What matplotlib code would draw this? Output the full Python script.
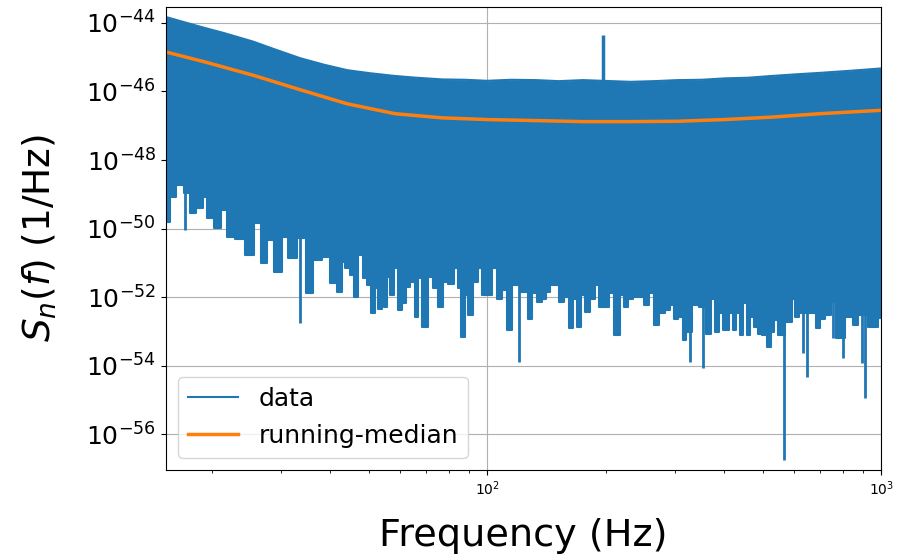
import numpy as np
import matplotlib.pyplot as plt
from matplotlib.ticker import NullLocator

# values (frequency in Hz, PSD as log10 of 1/Hz)
upper_freq = [15.3, 17.0, 19.2, 21.5, 25.5, 29.0, 33.5, 38.5, 44.1, 50.5, 58.4, 66.0, 76.9,
              88.0, 100, 115, 133, 152, 175, 231, 265, 304, 350, 400, 460, 526, 610, 696,
              830, 1000]
upper_log = [-43.83, -43.98, -44.15, -44.30, -44.55, -44.78, -45.03, -45.22, -45.38, -45.47,
             -45.55, -45.60, -45.65, -45.66, -45.69, -45.66, -45.67, -45.70, -45.67, -45.72,
             -45.70, -45.67, -45.66, -45.62, -45.60, -45.55, -45.50, -45.46, -45.40, -45.33]

median_freq = [15.3, 19.2, 25.5, 33.5, 44.1, 58.4, 76.9, 100, 133, 175, 231, 304, 400, 526, 696, 1000]
median_log = [-44.85, -45.14, -45.53, -45.95, -46.36, -46.65, -46.77, -46.82, -46.85,
              -46.88, -46.88, -46.87, -46.82, -46.75, -46.65, -46.55]

# bottom edge of the noisy band
lower_freq = [15.3, 16.0, 16.5, 17.4, 17.8, 18.7, 19.2, 19.8, 20.8, 21.3, 22.3, 23.6, 25.0,
              26.2, 27.0, 28.1, 29.5, 30.7, 31.6, 34.1, 35.1, 37.0, 39.3, 40.7,
              42.4, 43.2, 44.1, 45.5, 46.4, 47.8, 48.8, 50.3, 51.3, 52.4, 53.4, 54.5, 55.1,
              56.2, 57.4, 58.5, 60.3, 61.6, 62.8, 64.8, 66.1, 67.4, 69.5, 71.6, 73.8, 76.1,
              78.5, 80.9, 83.4, 85.1, 86.8, 88.6, 90.4, 93.2, 96.0, 98.0, 101.0, 104.1, 107.3,
              110.6, 114.0, 117.6, 124.9, 128.3, 131.4, 135.5, 139.6, 142.5, 146.9, 149.9,
              154.5, 159.2, 163.5, 167.5, 170.9, 174.4, 179.8, 185.3, 189.8, 194.9, 200.9,
              207.1, 213.5, 220.1, 224.6, 231.5, 238.6, 246.0, 253.5, 261.3, 269.3, 277.6,
              286.2, 295.0, 301.0, 310.2, 316.6, 323.1, 339.8, 350.3, 368.4, 372.2, 383.6,
              391.4, 403.4, 415.9, 424.4, 433.1, 441.9, 451.0, 460.3, 469.7, 479.3, 494.0,
              504.1, 519.6, 530.3, 541.1, 552.1, 586.8, 598.8, 611.0, 623.6, 676.0, 689.9,
              711.0, 732.8, 755.4, 778.6, 835.8, 861.4, 888.1, 962.7, 1000]
lower_log = [-49.81, -49.08, -48.73, -48.97, -49.55, -49.40, -49.08, -49.69, -49.99, -49.46,
             -50.25, -50.30, -50.77, -49.84, -51.01, -50.34, -51.27, -50.25, -50.86, -50.28,
             -51.88, -50.92, -50.83, -51.59,
             -51.84, -50.97, -51.16, -51.36, -51.99, -50.77, -51.45, -51.65, -52.47, -51.74,
             -52.33, -51.74, -52.28, -51.40, -51.94, -51.16, -52.38, -52.18, -51.70, -51.55,
             -52.57, -51.45, -52.86, -51.40, -51.74, -52.28, -51.55, -51.60, -51.16, -51.74,
             -53.15, -51.94, -52.52, -51.55, -51.16, -51.94, -51.94, -51.16, -52.04, -51.79,
             -52.96, -51.65, -51.84, -52.62, -51.89, -52.13, -52.04, -51.84, -51.65, -51.65,
             -52.13, -51.99, -52.91, -52.04, -52.86, -51.94, -52.43, -52.04, -51.65, -52.28,
             -52.28, -51.89, -53.11, -51.94, -52.28, -52.04, -51.99, -51.99, -52.23, -51.89,
             -52.81, -52.47, -52.38, -52.23, -52.62, -52.57, -53.25, -53.01, -52.23, -52.28,
             -53.06, -52.04, -53.01, -52.47, -52.96, -52.47, -52.96, -52.47, -53.11, -52.18,
             -53.11, -52.57, -52.86, -53.06, -53.11, -53.45, -53.01, -52.67, -53.11, -52.72,
             -52.04, -52.57, -52.47, -52.47, -52.91, -52.62, -52.52, -52.13, -53.20, -52.57,
             -52.81, -52.52, -52.86, -52.60]

# isolated deep minima
dip_freq = [17.1, 33.5, 120.6, 327.5, 353, 567, 634, 649, 755, 801, 895, 911]
dip_log = [-50.05, -52.76, -53.89, -53.89, -54.06, -56.75, -53.63, -54.33, -53.19, -53.77,
           -53.92, -54.94]

line_freq = 197
line_log = -44.36

blue = '#1f77b4'
orange = '#ff7f0e'

fig = plt.figure(figsize=(9.17, 5.59), dpi=100)
ax = fig.add_axes([0.181, 0.159, 0.780, 0.829])

upper = 10.0 ** np.array(upper_log)
lower = 10.0 ** np.array(lower_log)
ax.fill_between(upper_freq, upper, 1e-48, color=blue, lw=0)
ax.fill_between(lower_freq, lower, 1e-48, step='mid', color=blue, lw=0)
ax.plot(upper_freq, upper, color=blue, lw=1.5, label='data')
ax.step(lower_freq, lower, where='mid', color=blue, lw=1.5)
ax.vlines(dip_freq, 10.0 ** np.array(dip_log), 1e-48, color=blue, lw=2)
ax.vlines(line_freq, 10.0 ** -45.7, 10.0 ** line_log, color=blue, lw=2.5)

ax.plot(median_freq, 10.0 ** np.array(median_log), color=orange, lw=2.5,
        label='running-median')

ax.set_xscale('log')
ax.set_yscale('log')
ax.set_xlim(15.3, 1000)
ax.set_ylim(10.0 ** -57.04, 10.0 ** -43.53)
ax.set_yticks([10.0 ** k for k in range(-56, -43, 2)])
ax.yaxis.set_minor_locator(NullLocator())
ax.tick_params(axis='y', labelsize=18)
ax.tick_params(axis='x', labelsize=10)
ax.set_axisbelow(True)
ax.grid(True, which='major')

ax.set_xlabel('Frequency (Hz)', fontsize=27.5, labelpad=14)
ax.set_ylabel(r'$S_n(f)$ (1/Hz)', fontsize=27, labelpad=20)
ax.legend(loc='lower left', fontsize=18)

fig.savefig('out.png', dpi=100)
